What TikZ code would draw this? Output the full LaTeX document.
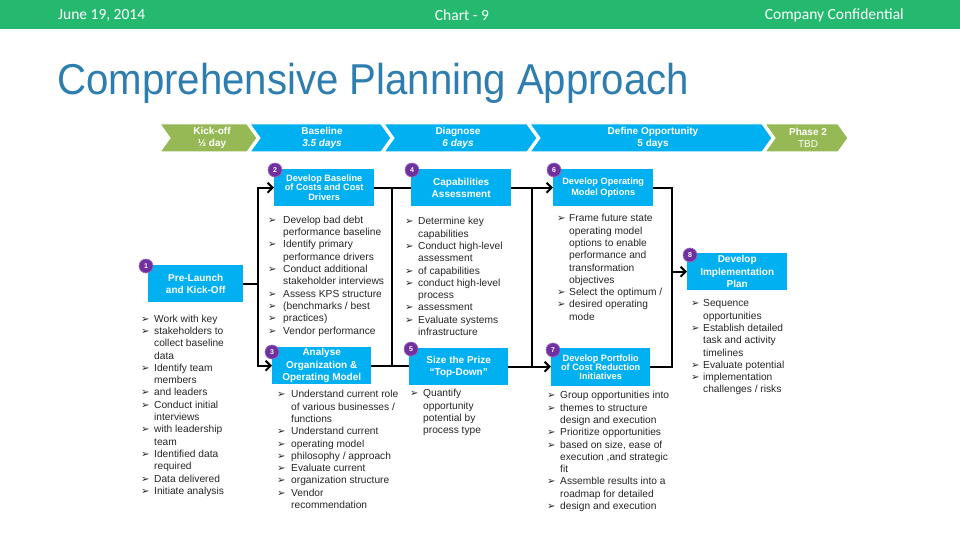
\documentclass[tikz,border=0pt]{standalone}
\usepackage{fontspec}
\setmainfont{Liberation Sans}
\newfontfamily\hdrfont{Carlito}
\newfontfamily\symfont{DejaVu Sans}
\newfontfamily\titlefont[FakeStretch=0.93]{Liberation Sans}
\usetikzlibrary{arrows.meta,calc}
\definecolor{hdrgreen}{RGB}{37,185,111}
\definecolor{titleblue}{RGB}{46,125,175}
\definecolor{chevgreen}{RGB}{150,185,85}
\definecolor{boxblue}{RGB}{0,176,240}
\definecolor{badgepurple}{RGB}{112,48,160}
\definecolor{bodytext}{RGB}{38,38,38}
\newlength\bw
\newcommand\bt{\makebox[\bw][l]{\symfont\fontsize{10}{10}\selectfont ➢}\strut}
\newcommand\nb{\hspace*{\bw}\strut}
\newcommand\chev[3]{\fill[#3, draw=white, line width=1pt] (#1,124) -- (#2-10,124) -- (#2,138) -- (#2-10,152) -- (#1,152) -- (#1+10,138) -- cycle;}
\tikzset{
  hdr/.style={text=white, font=\hdrfont\fontsize{15.5}{18}\selectfont, inner sep=0},
  chevtxt/.style={text=white, font=\bfseries\fontsize{10}{11.5}\selectfont, align=center, inner sep=0},
  box/.style={fill=boxblue, text=white, align=center, inner sep=0, anchor=north west},
  bigf/.style={font=\bfseries\fontsize{10}{12.3}\selectfont},
  smallf/.style={font=\bfseries\fontsize{9.2}{9.2}\selectfont},
  badge/.style={circle, fill=badgepurple, draw=badgepurple!70!white, line width=0.6pt, text=white, font=\bfseries\fontsize{7}{7}\selectfont, inner sep=0, minimum size=14pt},
  lst/.style={anchor=north west, inner sep=0, align=left, text=bodytext, font=\fontsize{10.2}{12.3}\selectfont, execute at begin node={\setlength{\bw}{#1}}},
  conn/.style={draw=black, line width=2pt},
  arr/.style={conn, -{Straight Barb[length=5pt,width=10pt]}}
}
\begin{document}
\begin{tikzpicture}[x=1pt, y=-1pt]
\useasboundingbox (0,0) rectangle (960,540);
\fill[white] (0,0) rectangle (960,540);
% header
\fill[hdrgreen] (0,0) rectangle (960,29);
\node[hdr, anchor=west] (hd1) at (58,15) {June 19, 2014};
\node[hdr] (hd2) at (462,15) {Chart - 9};
\node[hdr, anchor=east] (hd3) at (904,15) {Company Confidential};
% title
\node[anchor=base west, inner sep=0, text=titleblue, font=\titlefont\fontsize{43.2}{48}\selectfont] (title) at (57,95) {Comprehensive Planning Approach};
% chevrons
\chev{160}{257}{chevgreen}
\chev{250}{391}{boxblue}
\chev{384}{537}{boxblue}
\chev{530}{772}{boxblue}
\chev{765}{848}{chevgreen}
\node[chevtxt] (c1) at (212,138) {Kick-off\\½ day};
\node[chevtxt] (c2) at (322,138) {Baseline\\\textit{3.5 days}};
\node[chevtxt] (c3) at (458,138) {Diagnose\\\textit{6 days}};
\node[chevtxt] (c4) at (653,138) {Define Opportunity\\5 days};
\node[chevtxt] (c5) at (808,138) {Phase 2\\\textmd{TBD}};
% boxes
\node[box, bigf, minimum width=95pt, minimum height=37pt] (b1) at (148,265) {Pre-Launch\\and Kick-Off};
\node[box, smallf, minimum width=100pt, minimum height=37pt] (b2) at (274,169) {Develop Baseline\\of Costs and Cost\\Drivers};
\node[box, bigf, minimum width=99pt, minimum height=37pt] (b3) at (272,347) {Analyse\\Organization \&\\Operating Model};
\node[box, bigf, minimum width=100pt, minimum height=37pt] (b4) at (411,169) {Capabilities\\Assessment};
\node[box, bigf, minimum width=99pt, minimum height=37pt] (b5) at (409,348) {Size the Prize\\“Top-Down”};
\node[box, font=\bfseries\fontsize{9.2}{10.8}\selectfont, minimum width=100pt, minimum height=37pt] (b6) at (553,169) {Develop Operating\\Model Options};
\node[box, font=\bfseries\fontsize{9.2}{9}\selectfont, minimum width=99pt, minimum height=38pt] (b7) at (551,348) {Develop Portfolio\\of Cost Reduction\\Initiatives};
\node[box, bigf, minimum width=100pt, minimum height=37pt] (b8) at (687,253) {Develop\\Implementation\\Plan};
% badges
\node[badge] (n1) at (146,266) {1};
\node[badge] (n2) at (275,170) {2};
\node[badge] (n3) at (272,352) {3};
\node[badge] (n4) at (412,170) {4};
\node[badge] (n5) at (411,349) {5};
\node[badge] (n6) at (554,170) {6};
\node[badge] (n7) at (553,350) {7};
\node[badge] (n8) at (690,255) {8};
% connectors
\coordinate (j1) at ($(b1.east)+(15,0)$);
\draw[conn] (b1.east) -- (j1);
\draw[arr] (j1) |- (b2.west);
\draw[arr] (j1) |- (b3.west);
\coordinate (v2) at (392,0);
\draw[conn] (b2.east) -- (b4.west);
\draw[conn] (b3.east) -- (b3.east -| b5.west);
\draw[conn] (b2.east -| v2) -- (b3.east -| v2);
\coordinate (v3) at (532,0);
\draw[arr] (b4.east) -- (b6.west);
\draw[arr] (b5.east) -- (b5.east -| b7.west);
\draw[conn] (b4.east -| v3) -- (b5.east -| v3);
\coordinate (v4) at (672,0);
\draw[conn] (b6.east) -| (v4 |- b7.east) -- (b7.east);
\draw[arr] (v4 |- b8.west) -- (b8.west);
% lists
\node[lst=13pt] (l1) at (141,313.3) {\bt Work with key\\\bt stakeholders to\\\nb collect baseline\\\nb data\\\bt Identify team\\\nb members\\\bt and leaders\\\bt Conduct initial\\\nb interviews\\\bt with leadership\\\nb team\\\bt Identified data\\\nb required\\\bt Data delivered\\\bt Initiate analysis};
\node[lst=15pt] (l2) at (268,214.5) {\bt Develop bad debt\\\nb performance baseline\\\bt Identify primary\\\nb performance drivers\\\bt Conduct additional\\\nb stakeholder interviews\\\bt Assess KPS structure\\\bt (benchmarks / best\\\bt practices)\\\bt Vendor performance};
\node[lst=14pt] (l3) at (277,389) {\bt Understand current role\\\nb of various businesses /\\\nb functions\\\bt Understand current\\\bt operating model\\\bt philosophy / approach\\\bt Evaluate current\\\bt organization structure\\\bt Vendor\\\nb recommendation};
\node[lst=13pt] (l4) at (405,216) {\bt Determine key\\\nb capabilities\\\bt Conduct high-level\\\nb assessment\\\bt of capabilities\\\bt conduct high-level\\\nb process\\\bt assessment\\\bt Evaluate systems\\\nb infrastructure};
\node[lst=13pt] (l5) at (410,388) {\bt Quantify\\\nb opportunity\\\nb potential by\\\nb process type};
\node[lst=12pt] (l6) at (557,213) {\bt Frame future state\\\nb operating model\\\nb options to enable\\\nb performance and\\\nb transformation\\\nb objectives\\\bt Select the optimum /\\\bt desired operating\\\nb mode};
\node[lst=13pt] (l7) at (547,390) {\bt Group opportunities into\\\bt themes to structure\\\nb design and execution\\\bt Prioritize opportunities\\\bt based on size, ease of\\\nb execution ,and strategic\\\nb fit\\\bt Assemble results into a\\\nb roadmap for detailed\\\bt design and execution};
\node[lst=12pt] (l8) at (691,298) {\bt Sequence\\\nb opportunities\\\bt Establish detailed\\\nb task and activity\\\nb timelines\\\bt Evaluate potential\\\bt implementation\\\nb challenges / risks};
\end{tikzpicture}
\end{document}
